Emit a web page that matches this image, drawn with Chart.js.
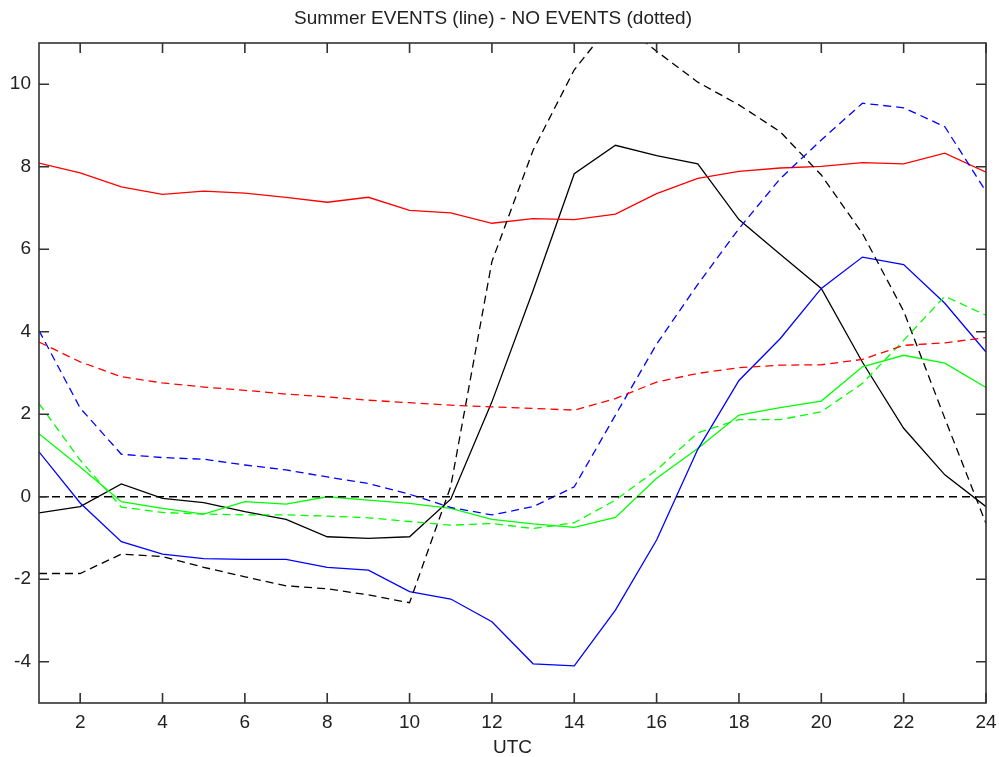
<!DOCTYPE html>
<html><head><meta charset="utf-8">
<script src="https://cdn.jsdelivr.net/npm/chart.js@4.4.1/dist/chart.umd.min.js"></script>
<style>html,body{margin:0;padding:0;background:#fff;overflow:hidden}</style>
</head><body>
<canvas id="c" width="999" height="757"></canvas>
<script>
const titleText = 'Summer EVENTS (line) - NO EVENTS (dotted)';
const xTitle = 'UTC';
const hours = [1,2,3,4,5,6,7,8,9,10,11,12,13,14,15,16,17,18,19,20,21,22,23,24];
const xTicks = [2,4,6,8,10,12,14,16,18,20,22,24];
const yTicks = [-4,-2,0,2,4,6,8,10];

// EVENTS (solid)
const redEvents   = [8.09,7.85,7.51,7.33,7.41,7.36,7.26,7.14,7.26,6.94,6.88,6.63,6.74,6.72,6.85,7.35,7.72,7.89,7.97,8.01,8.10,8.07,8.33,7.87];
const blackEvents = [-0.39,-0.24,0.31,-0.04,-0.14,-0.36,-0.55,-0.97,-1.01,-0.97,-0.06,2.3,5.0,7.83,8.52,8.27,8.07,6.72,5.88,5.05,3.26,1.66,0.53,-0.24];
const blueEvents  = [1.09,-0.15,-1.09,-1.39,-1.50,-1.52,-1.52,-1.71,-1.78,-2.30,-2.48,-3.03,-4.05,-4.10,-2.75,-1.05,1.15,2.82,3.83,5.05,5.81,5.63,4.69,3.51];
const greenEvents = [1.53,0.72,-0.12,-0.28,-0.42,-0.12,-0.18,0.0,-0.08,-0.16,-0.28,-0.55,-0.66,-0.74,-0.50,0.45,1.17,1.98,2.16,2.32,3.15,3.43,3.24,2.65];
// NO EVENTS (dashed)
const redNo   = [3.75,3.27,2.91,2.76,2.66,2.58,2.49,2.42,2.34,2.28,2.22,2.18,2.14,2.10,2.38,2.78,2.99,3.13,3.19,3.20,3.33,3.67,3.73,3.86];
const blackNo = [-1.86,-1.86,-1.39,-1.45,-1.71,-1.94,-2.16,-2.23,-2.38,-2.57,0.25,5.7,8.4,10.35,11.6,10.8,10.05,9.5,8.85,7.8,6.38,4.5,1.9,-0.65];
const blueNo  = [4.03,2.15,1.03,0.95,0.91,0.77,0.65,0.48,0.32,0.06,-0.26,-0.44,-0.24,0.24,1.98,3.7,5.15,6.5,7.71,8.65,9.54,9.43,8.97,7.40];
const greenNo = [2.26,0.89,-0.25,-0.38,-0.42,-0.44,-0.44,-0.47,-0.51,-0.60,-0.69,-0.65,-0.77,-0.63,-0.08,0.65,1.55,1.87,1.87,2.06,2.75,3.79,4.86,4.40];
// zero reference line
const zeroX = [1, 24];
const zeroY = [0, 0];

const FONT = '"Liberation Sans", Arial, sans-serif';
const TXT = '#222';
const DASH = [8,5];

function pts(xs, ys){ return xs.map((x,i)=>({x:x, y:ys[i]})); }
function ds(data, color, dashed){
  return {data: pts(hours, data), borderColor: color, borderWidth: 1.3, borderDash: dashed ? DASH : [],
          pointRadius: 0, tension: 0, fill: false};
}

const frame = {
  id: 'frame',
  afterDatasetsDraw(chart){
    const {ctx, chartArea: a, scales: {x, y}} = chart;
    ctx.save();
    ctx.strokeStyle = '#333';
    ctx.lineWidth = 1.6;
    ctx.setLineDash([]);
    ctx.strokeRect(a.left, a.top, a.right - a.left, a.bottom - a.top);
    const L = 10;
    ctx.beginPath();
    x.ticks.forEach(t => {
      const p = x.getPixelForValue(t.value);
      ctx.moveTo(p, a.bottom); ctx.lineTo(p, a.bottom - L);
      ctx.moveTo(p, a.top); ctx.lineTo(p, a.top + L);
    });
    y.ticks.forEach(t => {
      const p = y.getPixelForValue(t.value);
      ctx.moveTo(a.left, p); ctx.lineTo(a.left + L, p);
      ctx.moveTo(a.right, p); ctx.lineTo(a.right - L, p);
    });
    ctx.stroke();
    ctx.restore();
  }
};

new Chart(document.getElementById('c'), {
  type: 'line',
  data: {
    datasets: [
      {data: pts(zeroX, zeroY), borderColor: '#000', borderWidth: 1.3, borderDash: DASH, pointRadius: 0, fill: false},
      ds(redNo, '#ff0000', true),
      ds(blueNo, '#0000ff', true),
      ds(greenNo, '#00ff00', true),
      ds(blackNo, '#000000', true),
      ds(redEvents, '#ff0000', false),
      ds(blueEvents, '#0000ff', false),
      ds(greenEvents, '#00ff00', false),
      ds(blackEvents, '#000000', false)
    ]
  },
  options: {
    responsive: false, animation: false, devicePixelRatio: 1,
    layout: {padding: {left: 0, right: 13, top: 0, bottom: 0}},
    plugins: {
      legend: {display: false}, tooltip: {enabled: false},
      title: {display: true, text: titleText, color: TXT,
              font: {family: FONT, size: 19, weight: 'normal', lineHeight: 1},
              padding: {top: 9, bottom: 15}}
    },
    scales: {
      x: {
        type: 'linear', min: 1, max: 24,
        grid: {display: false, drawTicks: false}, border: {display: false},
        afterBuildTicks: s => { s.ticks = xTicks.map(v => ({value: v})); },
        afterFit: s => { s.height = 54; s.paddingLeft = 0; s.paddingRight = 0; },
        ticks: {color: TXT, font: {family: FONT, size: 19}, padding: 8, maxRotation: 0, autoSkip: false},
        title: {display: true, text: xTitle, color: TXT, font: {family: FONT, size: 19, lineHeight: 1}, padding: {top: 0, bottom: 0}}
      },
      y: {
        type: 'linear', min: -5, max: 11,
        grid: {display: false, drawTicks: false}, border: {display: false},
        afterBuildTicks: s => { s.ticks = yTicks.map(v => ({value: v})); },
        afterFit: s => { s.width = 39; s.paddingTop = 0; s.paddingBottom = 0; },
        ticks: {color: TXT, font: {family: FONT, size: 19}, padding: 8, autoSkip: false}
      }
    }
  },
  plugins: [frame]
});
</script>
</body></html>
